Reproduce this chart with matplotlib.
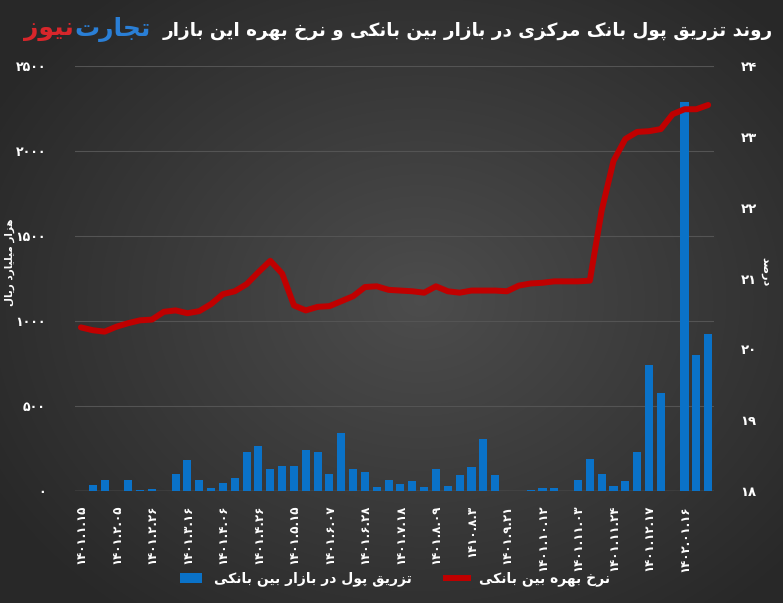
import numpy as np
import matplotlib
matplotlib.use('Agg')
import matplotlib.pyplot as plt
from matplotlib.patches import Patch
from matplotlib.lines import Line2D

# weekly injection (thousand billion rial) and interbank rate (%)
injection = [0, 35, 63, 0, 67, 5, 12, 0, 98, 180, 63, 20, 45, 75, 228, 266, 132, 150,
             150, 244, 232, 101, 342, 128, 111, 22, 67, 39, 59, 24, 129, 29, 96, 141,
             304, 94, 0, 0, 5, 16, 16, 0, 65, 190, 102, 27, 59, 229, 739, 575, 0, 2290,
             800, 925]
rate = [20.31, 20.27, 20.25, 20.32, 20.37, 20.41, 20.42, 20.53, 20.55, 20.51, 20.54,
        20.64, 20.78, 20.82, 20.92, 21.09, 21.25, 21.07, 20.62, 20.55, 20.60, 20.61,
        20.68, 20.75, 20.88, 20.89, 20.84, 20.83, 20.82, 20.80, 20.89, 20.82, 20.80,
        20.83, 20.83, 20.83, 20.82, 20.90, 20.93, 20.94, 20.96, 20.96, 20.96, 20.97,
        21.96, 22.66, 22.97, 23.07, 23.08, 23.11, 23.32, 23.39, 23.39, 23.45]
tick_labels = ['1401.1.15', '1401.2.05', '1401.2.26', '1401.3.16', '1401.4.06',
               '1401.4.26', '1401.5.15', '1401.6.07', '1401.6.28', '1401.7.18',
               '1401.8.09', '1410.8.3', '1401.9.21', '1401.10.12', '1401.11.03',
               '1401.11.24', '1401.12.17', '1402.01.16']
left_ticks = [0, 500, 1000, 1500, 2000, 2500]
right_ticks = [18, 19, 20, 21, 22, 23, 24]

title = 'روند تزریق پول بانک مرکزی در بازار بین بانکی و نرخ بهره این بازار'
left_label = 'هزار میلیارد ریال'
right_label = 'درصد'
bar_name = 'تزریق پول در بازار بین بانکی'
line_name = 'نرخ بهره بین بانکی'

# --- simple persian shaping (no reshaper lib available) ---
# char -> (isolated form codepoint, dual joining?)
FORMS = {
    'ا': (0xFE8D, False), 'آ': (0xFE81, False), 'ب': (0xFE8F, True), 'پ': (0xFB56, True),
    'ت': (0xFE95, True), 'ث': (0xFE99, True), 'ج': (0xFE9D, True), 'چ': (0xFB7A, True),
    'ح': (0xFEA1, True), 'خ': (0xFEA5, True), 'د': (0xFEA9, False), 'ذ': (0xFEAB, False),
    'ر': (0xFEAD, False), 'ز': (0xFEAF, False), 'ژ': (0xFB8A, False), 'س': (0xFEB1, True),
    'ش': (0xFEB5, True), 'ص': (0xFEB9, True), 'ض': (0xFEBD, True), 'ط': (0xFEC1, True),
    'ظ': (0xFEC5, True), 'ع': (0xFEC9, True), 'غ': (0xFECD, True), 'ف': (0xFED1, True),
    'ق': (0xFED5, True), 'ک': (0xFB8E, True), 'گ': (0xFB92, True), 'ل': (0xFEDD, True),
    'م': (0xFEE1, True), 'ن': (0xFEE5, True), 'و': (0xFEED, False), 'ه': (0xFEE9, True),
    'ی': (0xFBFC, True),
}


def fa(s):
    out = []
    for i, c in enumerate(s):
        if c not in FORMS:
            out.append(c)
            continue
        base, dual = FORMS[c]
        prev = s[i - 1] if i > 0 else ''
        nxt = s[i + 1] if i < len(s) - 1 else ''
        jp = prev in FORMS and FORMS[prev][1]
        jn = dual and nxt in FORMS
        if jp and jn:
            cp = base + 3
        elif jp:
            cp = base + 1
        elif jn:
            cp = base + 2
        else:
            cp = base
        out.append(chr(cp))
    return ''.join(reversed(out))


def pdig(x):
    return str(x).translate(str.maketrans('0123456789', '۰۱۲۳۴۵۶۷۸۹'))


plt.rcParams['font.family'] = ['DejaVu Sans']

W, H = 783, 603
fig = plt.figure(figsize=(W / 100, H / 100), dpi=100)

# background radial gradient
bg = fig.add_axes([0, 0, 1, 1], zorder=-10)
yy, xx = np.mgrid[0:H, 0:W]
d = np.sqrt(((xx - 420) / 520.0) ** 2 + ((yy - 300) / 420.0) ** 2)
g = np.clip(0.30 - 0.15 * d, 0.16, 0.30)
bg.imshow(np.dstack([g, g, g]), aspect='auto', extent=[0, 1, 0, 1])
bg.axis('off')

ax = fig.add_axes([0.0958, 0.1857, 0.8162, 0.7048])
ax.patch.set_alpha(0)
x = np.arange(len(injection))
ax.bar(x, injection, width=0.68, color='#0a72c8', zorder=2)
ax.set_xlim(-0.5, len(injection) - 0.5)
ax.set_ylim(0, 2500)
ax.set_yticks(left_ticks)
ax.set_yticklabels([pdig(v) for v in left_ticks], color='white', fontsize=9,
                   fontweight='bold')
ax.yaxis.grid(True, color='#545454', linewidth=0.8, zorder=0)
ax.set_axisbelow(True)
ax.set_xticks(np.arange(0, len(injection), 3))
ax.set_xticklabels([pdig(t) for t in tick_labels], rotation=90, color='white',
                   fontsize=8.5, fontweight='bold', va='top')
ax.tick_params(length=0, pad=10)
ax.tick_params(axis='y', pad=21)
for s in ax.spines.values():
    s.set_visible(False)
ax.axhline(0, color='#666666', linewidth=1, zorder=1)

ax2 = ax.twinx()
ax2.plot(x, rate, color='#c00000', linewidth=4.3, solid_capstyle='round',
         solid_joinstyle='round', zorder=3)
ax2.set_ylim(18, 24)
ax2.set_yticks(right_ticks)
ax2.set_yticklabels([pdig(v) for v in right_ticks], color='white', fontsize=9.5,
                    fontweight='bold')
ax2.tick_params(length=0, pad=19)
for s in ax2.spines.values():
    s.set_visible(False)

# axis titles
fig.text(10 / W, 1 - 262 / H, fa(left_label), color='white', fontsize=7.5,
         fontweight='bold', rotation=90, ha='center', va='center')
fig.text(765 / W, 1 - 272 / H, fa(right_label), color='white', fontsize=8,
         fontweight='bold', rotation=270, ha='center', va='center')

# title and logo
fig.text(773 / W, 1 - 31 / H, fa(title), color='white', fontsize=13.2,
         fontweight='bold', ha='right', va='center')
blue = fig.text(151 / W, 1 - 29 / H, fa('تجارت'), color='#2a7fd6', fontsize=18,
                fontweight='bold', ha='right', va='center')
fig.canvas.draw()
bb = blue.get_window_extent(fig.canvas.get_renderer())
fig.text((bb.x0 - 1) / W, 1 - 29 / H, fa('نیوز'), color='#d8262b', fontsize=18,
         fontweight='bold', ha='right', va='center')

handles = [Patch(facecolor='#0a72c8'), Line2D([0], [0], color='#c00000', linewidth=4.3)]
leg = fig.legend(handles, [fa(bar_name), fa(line_name)], loc='center',
                 bbox_to_anchor=(0.505, 0.04), ncol=2, frameon=False,
                 fontsize=10, columnspacing=2.5, handlelength=1.6)
for t in leg.get_texts():
    t.set_color('white')
    t.set_fontweight('bold')

fig.savefig('out.png', dpi=100)
